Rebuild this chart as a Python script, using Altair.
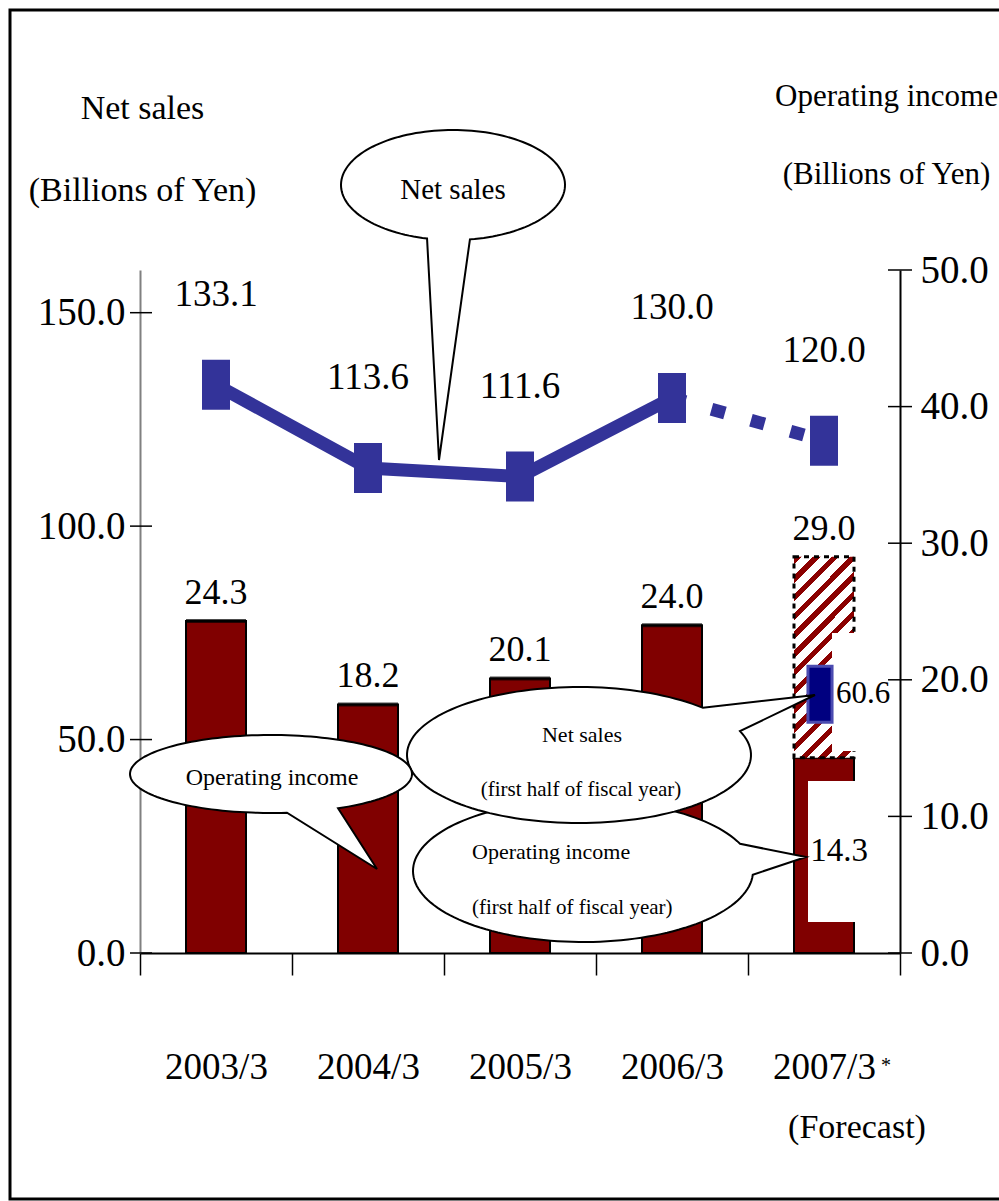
import math
import altair as alt
import pandas as pd

# ---------------- data ----------------
years = ["2003/3", "2004/3", "2005/3", "2006/3", "2007/3"]
net_sales = [133.1, 113.6, 111.6, 130.0, 120.0]          # 2007/3 = forecast
operating_income = [24.3, 18.2, 20.1, 24.0, 29.0]        # 2007/3 = forecast
op_income_h1_2007 = 14.3
net_sales_h1_2007 = 60.6
left_ticks = [0, 50, 100, 150]
right_ticks = [0, 10, 20, 30, 40, 50]

# ---------------- style ----------------
W, H = 760, 683
PAD = {"left": 140, "top": 270, "right": 99, "bottom": 248}
FONT = "Liberation Serif"
RED = "#800000"
BLUE = "#333399"

df = pd.DataFrame({"year": years, "net_sales": net_sales, "op": operating_income})
hist = df.iloc[:4]
solid_line = df.iloc[:4]
dash_line = df.iloc[3:5]
fc = pd.DataFrame({"year": [years[4]], "h1": [op_income_h1_2007],
                   "full": [operating_income[4]], "ns_h1": [net_sales_h1_2007]})
lt = pd.DataFrame({"v": left_ticks})
rt = pd.DataFrame({"v": right_ticks})
one = alt.Data(values=[{"a": 1}])

x_axis = alt.Axis(title=None, labelFont=FONT, labelFontSize=37, labelColor="black",
                  labelPadding=92, labelAngle=0, labelBaseline="middle",
                  domainColor="black", domainWidth=2, tickColor="black", tickWidth=1.5,
                  tickSize=22, tickBand="extent", grid=False)
X = alt.X("year:N", sort=years,
          scale=alt.Scale(domain=years, paddingInner=0, paddingOuter=0), axis=x_axis)

right_scale = alt.Scale(domain=[0, 50], nice=False, zero=True)
left_scale = alt.Scale(domain=[0, 160], nice=False, zero=True)

right_axis = alt.Axis(orient="right", values=right_ticks, format=".1f", ticks=False,
                      domainColor="black", domainWidth=2, grid=False,
                      labelFont=FONT, labelFontSize=39, labelColor="black",
                      labelPadding=20, labelAlign="left", labelBaseline="middle",
                      title=["Operating income", "(Billions of Yen)"],
                      titleFont=FONT, titleFontSize=31, titleFontWeight="normal",
                      titleColor="black", titleAngle=0, titleAlign="center",
                      titleBaseline="alphabetic", titleX=-14, titleY=-165,
                      titleLineHeight=78)
left_axis = alt.Axis(orient="left", values=left_ticks, format=".1f", ticks=False,
                     domainColor="#808080", domainWidth=2, grid=False,
                     labelFont=FONT, labelFontSize=39, labelColor="black",
                     labelPadding=15, labelAlign="right", labelBaseline="middle",
                     title=["Net sales", "(Billions of Yen)"],
                     titleFont=FONT, titleFontSize=34, titleFontWeight="normal",
                     titleColor="black", titleAngle=0, titleAlign="center",
                     titleBaseline="alphabetic", titleX=2, titleY=-152,
                     titleLineHeight=82)

# frame
frame = alt.Chart(one).mark_rect(fillOpacity=0, stroke="black", strokeWidth=3).encode(
    x=alt.value(-130), x2=alt.value(880), y=alt.value(-260), y2=alt.value(929))

# bars (right scale)
bars = alt.Chart(hist).mark_bar(color=RED, stroke="black", strokeWidth=2, size=60).encode(
    x=X, y=alt.Y("op:Q", scale=right_scale, axis=right_axis))
bar_tops = alt.Chart(hist).mark_tick(color="black", thickness=4, size=60).encode(
    x=X, y=alt.Y("op:Q", scale=right_scale, axis=None))
bar_h1 = alt.Chart(fc).mark_bar(color=RED, stroke="black", strokeWidth=2, size=60).encode(
    x=X, y=alt.Y("h1:Q", scale=right_scale, axis=None))

N = 14
stops = []
for i in range(N):
    a = i / N
    b = (i + 0.4) / N
    c = (i + 1) / N
    stops += [{"offset": round(a, 5), "color": "#8b0000"},
              {"offset": round(b, 5), "color": "#8b0000"},
              {"offset": round(b, 5), "color": "#ffffff"},
              {"offset": round(c, 5), "color": "#ffffff"}]
grad = {"gradient": "linear", "x1": 0, "y1": 0, "x2": 0.36, "y2": 1.2, "stops": stops}
bar_fc = alt.Chart(fc).mark_bar(fill=grad, stroke="black", strokeWidth=3,
                                strokeDash=[5, 5], size=60).encode(
    x=X, y=alt.Y("full:Q", scale=right_scale, axis=None), y2="h1:Q")

# white label boxes
box1 = alt.Chart(one).mark_rect(fill="white").encode(
    x=alt.value(668), x2=alt.value(722), y=alt.value(511), y2=alt.value(652))
box2 = alt.Chart(one).mark_rect(fill="white").encode(
    x=alt.value(692), x2=alt.value(750), y=alt.value(363), y2=alt.value(481))

# axis ticks crossing the axes
rticks = alt.Chart(rt).mark_rule(color="black", strokeWidth=1.5).encode(
    y=alt.Y("v:Q", scale=right_scale, axis=None), x=alt.value(W - 12), x2=alt.value(W + 12))
lticks = alt.Chart(lt).mark_rule(color="black", strokeWidth=1.5).encode(
    y=alt.Y("v:Q", scale=left_scale, axis=None), x=alt.value(-10), x2=alt.value(12))

op_labels = alt.Chart(df).mark_text(font=FONT, fontSize=36, baseline="alphabetic",
                                    dy=-17, color="black").encode(
    x=X, y=alt.Y("op:Q", scale=right_scale, axis=None),
    text=alt.Text("op:Q", format=".1f"))
h1_label = alt.Chart(fc).mark_text(font=FONT, fontSize=33, baseline="middle",
                                   dx=15, dy=93, color="black").encode(
    x=X, y=alt.Y("h1:Q", scale=right_scale, axis=None),
    text=alt.Text("h1:Q", format=".1f"))

# net sales line (left scale)
line = alt.Chart(solid_line).mark_line(color=BLUE, strokeWidth=13, strokeCap="butt").encode(
    x=X, y=alt.Y("net_sales:Q", scale=left_scale, axis=left_axis))
line_fc = alt.Chart(dash_line).mark_line(color=BLUE, strokeWidth=13, strokeCap="butt",
                                         strokeDash=[14, 27]).encode(
    x=X, y=alt.Y("net_sales:Q", scale=left_scale, axis=None))
rect_shape = "M-0.56,-1L0.56,-1L0.56,1L-0.56,1Z"
markers = alt.Chart(df).mark_point(shape=rect_shape, size=2500, filled=True, fill=BLUE,
                                   opacity=1, strokeWidth=0).encode(
    x=X, y=alt.Y("net_sales:Q", scale=left_scale, axis=None))
ns_labels = alt.Chart(df).mark_text(font=FONT, fontSize=37, baseline="middle", dy=-90,
                                    color="black").encode(
    x=X, y=alt.Y("net_sales:Q", scale=left_scale, axis=None),
    text=alt.Text("net_sales:Q", format=".1f"))

h1_shape = "M-0.43,-1L0.43,-1L0.43,1L-0.43,1Z"
ns_h1 = alt.Chart(fc).mark_point(shape=h1_shape, size=3136, filled=True, fill="#000080",
                                 stroke="#4b4bb0", strokeWidth=3, opacity=1,
                                 xOffset=-4).encode(
    x=X, y=alt.Y("ns_h1:Q", scale=left_scale, axis=None))
ns_h1_label = alt.Chart(fc).mark_text(font=FONT, fontSize=31, baseline="middle",
                                      align="left", dx=12, color="black").encode(
    x=X, y=alt.Y("ns_h1:Q", scale=left_scale, axis=None),
    text=alt.Text("ns_h1:Q", format=".1f"))

# forecast note under 2007/3
star = alt.Chart(fc).mark_text(font=FONT, fontSize=20, text="*", dx=62,
                               color="black").encode(x=X, y=alt.value(796))
forecast = alt.Chart(fc).mark_text(font=FONT, fontSize=34, text="(Forecast)", dx=33,
                                   color="black").encode(x=X, y=alt.value(858))


# callouts
def callout(cx, cy, rx, ry, a1, a2, tip, s=100.0):
    pts = []
    n = 140
    start = math.radians(a2)
    end = math.radians(a1) + 2 * math.pi
    for k in range(n + 1):
        t = start + (end - start) * k / n
        pts.append((rx * math.cos(t), ry * math.sin(t)))
    pts.append((tip[0] - cx, tip[1] - cy))
    d = "M" + "L".join(f"{px / s:.4f},{py / s:.4f}" for px, py in pts) + "Z"
    return alt.Chart(one).mark_point(shape=d, size=(2 * s) ** 2, filled=True, fill="white",
                                     stroke="black", strokeWidth=2, opacity=1).encode(
        x=alt.value(cx - PAD["left"]), y=alt.value(cy - PAD["top"]))


def label(txt, x, y, size, align="center"):
    return alt.Chart(one).mark_text(text=txt, font=FONT, fontSize=size, align=align,
                                    baseline="middle", color="black").encode(
        x=alt.value(x - PAD["left"]), y=alt.value(y - PAD["top"]))


call_d = callout(583, 871, 170, 71, -22.5, 3, (806, 857))
call_c = callout(579, 755, 172, 68, -43.9, -20.6, (815, 695))
call_b = callout(271, 774, 141, 39, 61.6, 83.5, (377, 869))
call_a = callout(453, 185, 112, 55, 81.3, 103.4, (439, 460))

txt_d1 = label("Operating income", 472, 852, 22, "left")
txt_d2 = label("(first half of fiscal year)", 472, 908, 21, "left")
txt_c1 = label("Net sales", 582, 735, 22)
txt_c2 = label("(first half of fiscal year)", 581, 790, 21)
txt_b = label("Operating income", 272, 778, 24)
txt_a = label("Net sales", 453, 190, 29)

chart = alt.layer(
    frame, bars, bar_tops, bar_h1, bar_fc, box1, box2, rticks, lticks,
    op_labels, h1_label, line, line_fc, markers, ns_labels, ns_h1, ns_h1_label,
    star, forecast,
    call_d, txt_d1, txt_d2, call_c, txt_c1, txt_c2, call_b, txt_b, call_a, txt_a,
).resolve_scale(y="independent").properties(
    width=W, height=H, padding=PAD, autosize=alt.AutoSizeParams(type="none"),
    background="white",
).configure_view(stroke=None)

chart.save("out.html", embed_options={"renderer": "svg", "actions": False})
